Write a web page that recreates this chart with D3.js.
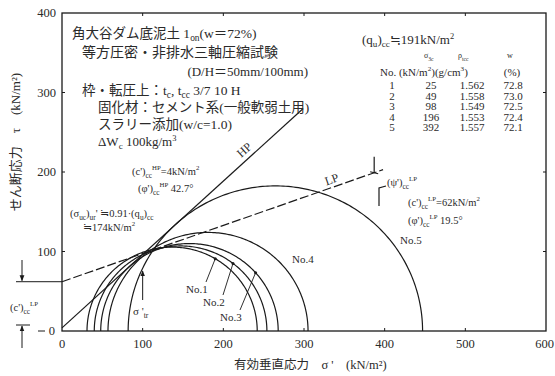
<!DOCTYPE html>
<html>
<head>
<meta charset="utf-8">
<script src="https://cdn.jsdelivr.net/npm/d3@7"></script>
<style>
  body { margin: 0; background: #fff; }
  text { font-family: "Liberation Serif", "Noto Sans CJK JP", serif; fill: #2a2a2a; }
</style>
</head>
<body>
<svg id="chart" width="555" height="376"></svg>
<script>
// Mohr circles (effective stress) : sigma3', sigma1' in kN/m2
const circleNo = ["No.1", "No.2", "No.3", "No.4", "No.5"];
const sigma3 = [31, 40, 48, 57, 82];
const sigma1 = [242, 254, 268, 305, 447];

// failure envelopes
const envNames = ["HP", "LP"];
const envC = [4, 62];          // c' (kN/m2)
const envPhi = [42.7, 19.5];   // phi' (deg)
const envEnd = [299, 398];     // sigma' where line stops

// test table
const tabNo = [1, 2, 3, 4, 5];
const tabSigma = [25, 49, 98, 196, 392];
const tabRho = ["1.562", "1.558", "1.549", "1.553", "1.557"];
const tabW = ["72.8", "73.0", "72.5", "72.4", "72.1"];

const xTicks = [0, 100, 200, 300, 400, 500, 600];
const yTicks = [100, 200, 300, 400];

const svg = d3.select("#chart");
const x = d3.scaleLinear().domain([0, 600]).range([62, 546]);
const y = d3.scaleLinear().domain([0, 400]).range([331, 13]);
const ink = "#1a1a1a";

// frame
svg.append("rect")
  .attr("x", x(0)).attr("y", y(400))
  .attr("width", x(600) - x(0)).attr("height", y(0) - y(400))
  .attr("fill", "none").attr("stroke", ink).attr("stroke-width", 1.3);

// inward ticks on all four sides
const tk = 3;
xTicks.slice(1, -1).forEach(v => {
  svg.append("line").attr("x1", x(v)).attr("x2", x(v)).attr("y1", y(0)).attr("y2", y(0) - tk).attr("stroke", ink);
  svg.append("line").attr("x1", x(v)).attr("x2", x(v)).attr("y1", y(400)).attr("y2", y(400) + tk).attr("stroke", ink);
});
yTicks.slice(0, -1).forEach(v => {
  svg.append("line").attr("x1", x(0)).attr("x2", x(0) + tk).attr("y1", y(v)).attr("y2", y(v)).attr("stroke", ink);
  svg.append("line").attr("x1", x(600)).attr("x2", x(600) - tk).attr("y1", y(v)).attr("y2", y(v)).attr("stroke", ink);
});

// tick labels
svg.selectAll(".xl").data(xTicks).enter().append("text")
  .attr("x", d => d === 600 ? 554 : x(d)).attr("y", y(0) + 17)
  .attr("text-anchor", d => d === 600 ? "end" : "middle").attr("font-size", 12.5).text(d => d);
svg.selectAll(".yl").data(yTicks).enter().append("text")
  .attr("x", x(0) - 6).attr("y", d => y(d) + 4)
  .attr("text-anchor", "end").attr("font-size", 12.5).text(d => d);
svg.append("text").attr("x", 55).attr("y", y(0) + 4).attr("text-anchor", "end")
  .attr("font-size", 12.5).text("0");
svg.append("line").attr("x1", 38).attr("x2", 45).attr("y1", y(0)).attr("y2", y(0)).attr("stroke", ink);

// axis titles
svg.append("text").attr("x", 234).attr("y", 369).attr("font-size", 12.5)
  .text("有効垂直応力　σ '　(kN/m²)");
svg.append("text").attr("transform", "translate(20,142) rotate(-90)")
  .attr("text-anchor", "middle").attr("font-size", 13)
  .text("せん断応力　τ　(kN/m²)");

// circles drawn through the scales
const arc = d3.line().x(d => x(d[0])).y(d => y(d[1]));
const angles = d3.range(0, 181, 1).map(a => a * Math.PI / 180);
circleNo.forEach((n, i) => {
  const c = (sigma1[i] + sigma3[i]) / 2, r = (sigma1[i] - sigma3[i]) / 2;
  svg.append("path")
    .attr("d", arc(angles.map(t => [c + r * Math.cos(t), r * Math.sin(t)])))
    .attr("fill", "none").attr("stroke", ink).attr("stroke-width", 1.2);
});

// envelopes
envNames.forEach((n, i) => {
  const t = Math.tan(envPhi[i] * Math.PI / 180);
  svg.append("line")
    .attr("x1", x(0)).attr("y1", y(envC[i]))
    .attr("x2", x(envEnd[i])).attr("y2", y(envC[i] + t * envEnd[i]))
    .attr("stroke", ink).attr("stroke-width", 1.2)
    .attr("stroke-dasharray", n === "LP" ? "9,3" : null);
});
const hpT = Math.tan(envPhi[0] * Math.PI / 180), lpT = Math.tan(envPhi[1] * Math.PI / 180);
const angHP = Math.atan2(y(0) - y(hpT * 100), x(100) - x(0)) * 180 / Math.PI;
const angLP = Math.atan2(y(0) - y(lpT * 100), x(100) - x(0)) * 180 / Math.PI;
svg.append("text").attr("transform", `translate(${x(233) - 3},${y(envC[0] + hpT * 233) - 4}) rotate(${-angHP})`)
  .attr("font-size", 12).attr("text-anchor", "middle").text("HP");
svg.append("text").attr("transform", `translate(${x(336)},${y(envC[1] + lpT * 336) - 4}) rotate(${-angLP})`)
  .attr("font-size", 12).attr("text-anchor", "middle").text("LP");

// LP end mark and bracket
const lpEx = x(387), lpEy = y(envC[1] + lpT * 387);
svg.append("path").attr("d", `M${lpEx},${lpEy} L${lpEx},${lpEy - 16} M${lpEx - 4},${lpEy - 1} L${lpEx + 4},${lpEy + 1}`)
  .attr("fill", "none").attr("stroke", ink).attr("stroke-width", 1.2);
svg.append("path").attr("d", "M379,206 L379,188 L386,186")
  .attr("fill", "none").attr("stroke", ink).attr("stroke-width", 1.2);

// helper for text with subscripts / superscripts
function rich(xp, yp, parts, size) {
  const t = svg.append("text").attr("x", xp).attr("y", yp).attr("font-size", size);
  let shift = 0;
  parts.forEach(p => {
    const s = t.append("tspan").text(p[0]);
    let target = 0;
    if (p[1] === "sub") { s.attr("font-size", size * 0.7); target = 3; }
    if (p[1] === "sup") { s.attr("font-size", size * 0.65); target = -5; }
    if (target !== shift) s.attr("dy", target - shift);
    shift = target;
  });
  return t;
}

// top-left description
rich(72, 38, [["角大谷ダム底泥土 1"], ["on", "sub"], ["(w＝72%)"]], 13.5);
svg.append("text").attr("x", 82).attr("y", 57).attr("font-size", 14).text("等方圧密・非排水三軸圧縮試験");
svg.append("text").attr("x", 308).attr("y", 76).attr("text-anchor", "end").attr("font-size", 13).text("(D/H＝50mm/100mm)");
rich(82, 95, [["枠・転圧上：t"], ["c", "sub"], [", t"], ["cc", "sub"], ["  3/7  10 H"]], 13.5);
svg.append("text").attr("x", 98).attr("y", 112).attr("font-size", 13.5).text("固化材：セメント系(一般軟弱土用)");
svg.append("text").attr("x", 98).attr("y", 129).attr("font-size", 13.5).text("スラリー添加(w/c=1.0)");
rich(98, 146, [["ΔW"], ["c", "sub"], ["  100kg/m"], ["3", "sup"]], 13);

// HP annotations
rich(132, 175, [["(c')"], ["cc", "sub"], ["HP", "sup"], ["=4kN/m"], ["2", "sup"]], 10.5);
rich(138, 192, [["(φ')"], ["cc", "sub"], ["HP", "sup"], ["  42.7°"]], 10.5);
rich(70, 217, [["(σ"], ["uc", "sub"], [")"], ["ur", "sub"], ["' ≒0.91·(q"], ["u", "sub"], [")"], ["cc", "sub"]], 10.5);
rich(83, 231, [["≒174kN/m"], ["2", "sup"]], 10.5);

// LP annotations
rich(387, 186, [["(ψ')"], ["cc", "sub"], ["LP", "sup"]], 10.5);
rich(408, 206, [["(c')"], ["cc", "sub"], ["LP", "sup"], ["=62kN/m"], ["2", "sup"]], 10.5);
rich(408, 224, [["(φ')"], ["cc", "sub"], ["LP", "sup"], ["  19.5°"]], 10.5);

// circle labels
svg.append("text").attr("x", 400).attr("y", 244).attr("font-size", 11).text("No.5");
svg.append("text").attr("x", 292).attr("y", 263).attr("font-size", 11).text("No.4");
const leaderAt = [190, 212, 240];
const labelPos = [[186, 293], [203, 306], [220, 321]];
leaderAt.forEach((s, i) => {
  const c = (sigma1[i] + sigma3[i]) / 2, r = (sigma1[i] - sigma3[i]) / 2;
  const tau = Math.sqrt(r * r - (s - c) * (s - c));
  const [lx, ly] = labelPos[i];
  svg.append("line").attr("x1", lx + 20).attr("y1", ly - 11).attr("x2", x(s)).attr("y2", y(tau))
    .attr("stroke", ink).attr("stroke-width", 0.9);
  svg.append("circle").attr("cx", x(s)).attr("cy", y(tau)).attr("r", 1.5).attr("fill", ink);
  svg.append("text").attr("x", lx).attr("y", ly).attr("font-size", 11).text(circleNo[i]);
});

// sigma'tr arrow
const defs = svg.append("defs");
defs.append("marker").attr("id", "ah").attr("viewBox", "0 0 10 10").attr("refX", 9).attr("refY", 5)
  .attr("markerWidth", 6).attr("markerHeight", 6).attr("orient", "auto")
  .append("path").attr("d", "M0,1 L10,5 L0,9 Z").attr("fill", ink);
svg.append("line").attr("x1", x(100)).attr("x2", x(100)).attr("y1", 300).attr("y2", 271)
  .attr("stroke", ink).attr("marker-end", "url(#ah)");
rich(133, 315, [["σ '"], ["tr", "sub"]], 11);

// (c')cc^LP dimension on the left
svg.append("line").attr("x1", 16).attr("x2", x(0)).attr("y1", y(envC[1])).attr("y2", y(envC[1])).attr("stroke", ink);
svg.append("line").attr("x1", 22).attr("x2", 22).attr("y1", 260).attr("y2", y(envC[1]) - 1)
  .attr("stroke", ink).attr("marker-end", "url(#ah)");
svg.append("line").attr("x1", 16).attr("x2", 30).attr("y1", y(0) - 6).attr("y2", y(0) - 6).attr("stroke", ink);
svg.append("line").attr("x1", 22).attr("x2", 22).attr("y1", 348).attr("y2", y(0) - 5)
  .attr("stroke", ink).attr("marker-end", "url(#ah)");
rich(10, 311, [["(c')"], ["cc", "sub"], ["LP", "sup"]], 10.5);

// table
rich(362, 44, [["(q"], ["u", "sub"], [")"], ["cc", "sub"], ["≒191kN/m"], ["2", "sup"]], 13);
rich(424, 58, [["σ"], ["3c", "sub"]], 8);
rich(458, 58, [["ρ"], ["tcc", "sub"]], 8);
svg.append("text").attr("x", 510).attr("y", 58).attr("font-size", 8).attr("text-anchor", "middle").text("w");
rich(380, 76, [["No. (kN/m"], ["2", "sup"], [")(g/cm"], ["3", "sup"], [")"]], 11);
svg.append("text").attr("x", 512).attr("y", 76).attr("font-size", 11).attr("text-anchor", "middle").text("(%)");
const rowY = d3.scaleLinear().domain([1, 5]).range([89, 131]);
tabNo.forEach((n, i) => {
  const yy = rowY(n);
  svg.append("text").attr("x", 392).attr("y", yy).attr("font-size", 11).attr("text-anchor", "middle").text(n);
  svg.append("text").attr("x", 431).attr("y", yy).attr("font-size", 11).attr("text-anchor", "middle").text(tabSigma[i]);
  svg.append("text").attr("x", 472).attr("y", yy).attr("font-size", 11).attr("text-anchor", "middle").text(tabRho[i]);
  svg.append("text").attr("x", 513).attr("y", yy).attr("font-size", 11).attr("text-anchor", "middle").text(tabW[i]);
});
</script>
</body>
</html>
